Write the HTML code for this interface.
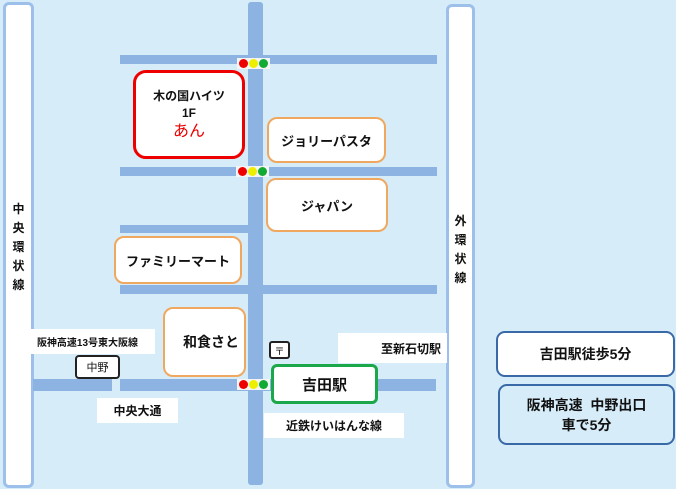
<!DOCTYPE html>
<html><head><meta charset="utf-8"><style>
body{margin:0;width:676px;height:489px;background:#d6ecf8;position:relative;overflow:hidden;font-family:"Liberation Sans","Noto Sans CJK JP",sans-serif;color:#111}
div{position:absolute;box-sizing:border-box}
.r{background:#8db3e2}
.b{background:#fff;display:flex;align-items:center;justify-content:center;text-align:center;font-weight:bold}
.o{border:2px solid #f0a860;border-radius:10px;font-size:13px}
.tl{width:33px;height:11px;background:#f4f4f4}
.tl span{position:absolute;top:1px;width:9px;height:9px;border-radius:50%}
.v{font-size:12px;font-weight:bold;line-height:19px;text-align:center;width:100%}
</style></head><body>
<div style="left:3px;top:2px;width:31px;height:486px;background:#fff;border:3px solid #9dc0ea;border-radius:6px"></div>
<div class="v" style="left:3px;top:200px;width:31px">中<br>央<br>環<br>状<br>線</div>
<div style="left:446px;top:4px;width:29px;height:484px;background:#fff;border:3px solid #9dc0ea;border-radius:6px"></div>
<div class="v" style="left:446px;top:212px;width:29px">外<br>環<br>状<br>線</div>

<div class="r" style="left:248px;top:2px;width:15px;height:483px;border-radius:3px"></div>
<div class="r" style="left:120px;top:55px;width:317px;height:9px"></div>
<div class="r" style="left:120px;top:167px;width:317px;height:9px"></div>
<div class="r" style="left:120px;top:225px;width:128px;height:8px"></div>
<div class="r" style="left:120px;top:285px;width:317px;height:9px"></div>
<div class="r" style="left:33px;top:379px;width:79px;height:12px"></div>
<div class="r" style="left:120px;top:379px;width:316px;height:12px"></div>

<div class="tl" style="left:237px;top:58px"><span style="left:2px;background:#e00"></span><span style="left:12px;background:#ee0"></span><span style="left:22px;background:#1a3"></span></div>
<div class="tl" style="left:236px;top:166px"><span style="left:2px;background:#e00"></span><span style="left:12px;background:#ee0"></span><span style="left:22px;background:#1a3"></span></div>
<div class="tl" style="left:237px;top:379px"><span style="left:2px;background:#e00"></span><span style="left:12px;background:#ee0"></span><span style="left:22px;background:#1a3"></span></div>

<div class="b" style="left:133px;top:70px;width:112px;height:89px;border:3px solid #e00;border-radius:13px;flex-direction:column;font-size:12px;line-height:17px;font-weight:bold"><div style="position:static">木の国ハイツ<br>1F</div><div style="position:static;color:#e00;font-size:16px;font-weight:normal;line-height:20px">あん</div></div>
<div class="b o" style="left:267px;top:117px;width:119px;height:46px">ジョリーパスタ</div>
<div class="b o" style="left:266px;top:178px;width:122px;height:54px">ジャパン</div>
<div class="b o" style="left:114px;top:236px;width:128px;height:48px">ファミリーマート</div>
<div class="b o" style="left:163px;top:307px;width:83px;height:70px;justify-content:flex-start;padding-left:18px;font-size:14px">和食さと</div>

<div class="b" style="left:20px;top:329px;width:135px;height:25px;font-size:10px">阪神高速13号東大阪線</div>
<div class="b" style="left:75px;top:355px;width:45px;height:24px;border:2px solid #222;border-radius:4px;font-size:11px;font-weight:normal">中野</div>
<div class="b" style="left:97px;top:398px;width:81px;height:25px;font-size:12px">中央大通</div>
<div class="b" style="left:269px;top:341px;width:21px;height:18px;border:2px solid #222;border-radius:3px;font-size:10px;font-weight:normal">〒</div>
<div class="b" style="left:338px;top:333px;width:109px;height:30px;font-size:12px;justify-content:flex-end;padding-right:6px">至新石切駅</div>
<div class="b" style="left:271px;top:364px;width:107px;height:40px;border:3px solid #1aa84a;border-radius:6px;font-size:15px">吉田駅</div>
<div class="b" style="left:264px;top:413px;width:140px;height:25px;font-size:12px">近鉄けいはんな線</div>

<div class="b" style="left:496px;top:331px;width:179px;height:46px;border:2px solid #3a69a8;border-radius:9px;font-size:14px">吉田駅徒歩5分</div>
<div class="b" style="left:498px;top:384px;width:177px;height:61px;border:2px solid #3a69a8;border-radius:9px;font-size:14px;background:#d6ecf8;line-height:20px">阪神高速&nbsp; 中野出口<br>車で5分</div>
</body></html>
